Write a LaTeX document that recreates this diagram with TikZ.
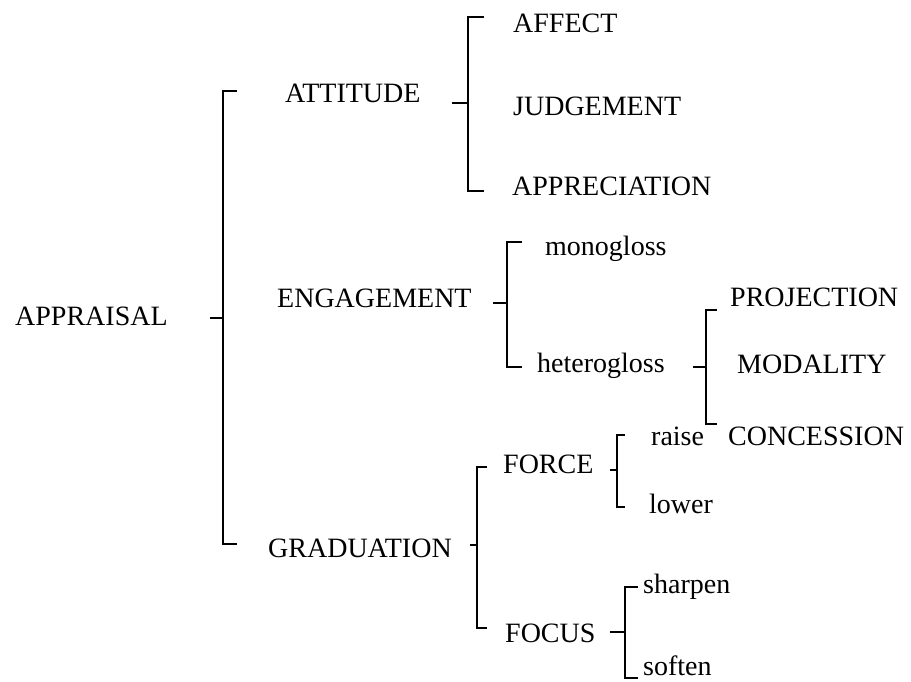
\documentclass[tikz,border=0pt]{standalone}
\usepackage{fontspec}
\setmainfont{Liberation Serif}
\usetikzlibrary{calc}

\begin{document}
\begin{tikzpicture}[x=1pt,y=-1pt,
cimke/.style={anchor=base west,inner sep=0pt,font=\fontsize{28}{31}\selectfont},
zarojel/.style={line width=1.4pt,line join=miter}]

\useasboundingbox (0,0) rectangle (911,681);

% szovegek
\node[cimke](appraisal) at (15,325){APPRAISAL};

\node[cimke](attitude) at (285,102){ATTITUDE};
\node[cimke](engagement) at (277,307){ENGAGEMENT};
\node[cimke](graduation) at (268,557){GRADUATION};

\node[cimke](affect) at (513,32){AFFECT};
\node[cimke](judgement) at (513,115){JUDGEMENT};
\node[cimke](appreciation) at (512,195){APPRECIATION};

\node[cimke](monogloss) at (545,255){monogloss};
\node[cimke](heterogloss) at (537,372){heterogloss};

\node[cimke](projection) at (730,306){PROJECTION};
\node[cimke](modality) at (737,373){MODALITY};
\node[cimke](concession) at (728,445){CONCESSION};

\node[cimke](force) at (503,473){FORCE};
\node[cimke](focus) at (505,642){FOCUS};

\node[cimke](raise) at (651,445){raise};
\node[cimke](lower) at (649,513){lower};
\node[cimke](sharpen) at (643,593){sharpen};
\node[cimke](soften) at (643,675){soften};

% zarojelek
\coordinate(f0-top) at (223,91);
\coordinate(f0-bot) at (223,544);
\coordinate(f0-mid) at (223,318);

\coordinate(f1-top) at (468,17);
\coordinate(f1-bot) at (468,191);
\coordinate(f1-mid) at (468,103);

\coordinate(f2-top) at (507,242);
\coordinate(f2-bot) at (507,367);
\coordinate(f2-mid) at (507,303);

\coordinate(f3-top) at (706,310);
\coordinate(f3-bot) at (706,424);
\coordinate(f3-mid) at (706,367);

\coordinate(f4-top) at (477,467);
\coordinate(f4-bot) at (477,628);
\coordinate(f4-mid) at (477,545);

\coordinate(f5-top) at (617,435);
\coordinate(f5-bot) at (617,507);
\coordinate(f5-mid) at (617,470);

\coordinate(f6-top) at (625,587);
\coordinate(f6-bot) at (625,678);
\coordinate(f6-mid) at (625,632);

\begin{scope}[zarojel]
\draw ([xshift=14]f0-top)--(f0-top)--(f0-bot)--([xshift=14]f0-bot);
\draw ([xshift=-13]f0-mid)--(f0-mid);

\draw ([xshift=16]f1-top)--(f1-top)--(f1-bot)--([xshift=16]f1-bot);
\draw ([xshift=-16]f1-mid)--(f1-mid);

\draw ([xshift=15]f2-top)--(f2-top)--(f2-bot)--([xshift=15]f2-bot);
\draw ([xshift=-14]f2-mid)--(f2-mid);

\draw ([xshift=11]f3-top)--(f3-top)--(f3-bot)--([xshift=11]f3-bot);
\draw ([xshift=-13]f3-mid)--(f3-mid);

\draw ([xshift=10]f4-top)--(f4-top)--(f4-bot)--([xshift=10]f4-bot);
\draw ([xshift=-7]f4-mid)--(f4-mid);

\draw ([xshift=8]f5-top)--(f5-top)--(f5-bot)--([xshift=8]f5-bot);
\draw ([xshift=-7]f5-mid)--(f5-mid);

\draw ([xshift=13]f6-top)--(f6-top)--(f6-bot)--([xshift=13]f6-bot);
\draw ([xshift=-15]f6-mid)--(f6-mid);
\end{scope}

\end{tikzpicture}
\end{document}
